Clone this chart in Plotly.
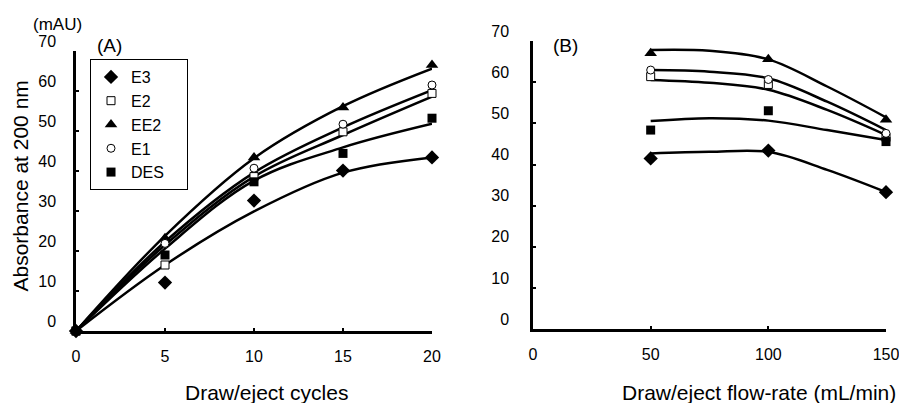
import plotly.graph_objects as go

# ---------------- data ----------------
series = ["E3", "E2", "EE2", "E1", "DES"]

# Panel A: draw/eject cycles
cycles = [0, 5, 10, 15, 20]
a_points = {
    "E3":  [0, 12.1, 32.6, 40.1, 43.4],
    "E2":  [0, 16.5, 38.6, 49.8, 59.4],
    "EE2": [0, 23.2, 43.4, 55.9, 66.5],
    "E1":  [0, 21.9, 40.7, 51.7, 61.5],
    "DES": [0, 19.0, 37.3, 44.4, 53.2],
}
# trend curves
a_curve_x = [0, 5, 10, 15, 20]
a_curves = {
    "E3":  [0, 16.5, 29.9, 39.6, 43.4],
    "E2":  [0, 21.5, 38.6, 49.0, 58.6],
    "EE2": [0, 23.8, 43.2, 56.2, 65.6],
    "E1":  [0, 22.3, 39.6, 50.9, 60.2],
    "DES": [0, 20.6, 37.6, 45.9, 51.8],
}

# Panel B: draw/eject flow-rate (mL/min)
flow = [50, 100, 150]
b_points = {
    "E3":  [41.5, 43.4, 33.3],
    "E2":  [61.4, 59.5, 46.6],
    "EE2": [67.1, 65.6, 50.9],
    "E1":  [63.0, 60.7, 47.6],
    "DES": [48.4, 53.1, 45.6],
}
b_curve_x = [50, 75, 100, 125, 150]
b_curves = {
    "E3":  [42.7, 43.1, 43.1, 38.7, 33.3],
    "E2":  [60.6, 59.9, 58.2, 53.3, 47.2],
    "EE2": [67.9, 67.7, 65.6, 59.0, 51.5],
    "E1":  [63.0, 62.6, 61.0, 55.3, 48.4],
    "DES": [50.6, 51.3, 50.7, 48.4, 46.0],
}

a_xticks = [0, 5, 10, 15, 20]
b_xticks = [0, 50, 100, 150]
yticks = [0, 10, 20, 30, 40, 50, 60, 70]

# ---------------- styles ----------------
FONT = "Liberation Sans, Arial, Helvetica, sans-serif"
marker_style = {
    "E3":  dict(symbol="diamond", size=11, color="black", line=dict(color="black", width=0)),
    "E2":  dict(symbol="square", size=8, color="white", line=dict(color="black", width=1)),
    "EE2": dict(symbol="triangle-up", size=11, color="black", line=dict(color="black", width=0)),
    "E1":  dict(symbol="circle", size=8, color="white", line=dict(color="black", width=1)),
    "DES": dict(symbol="square", size=9, color="black", line=dict(color="black", width=0)),
}
PAD = "\u00a0" * 4  # widens the legend box a little

fig = go.Figure()

# curves first
for s in series:
    fig.add_trace(go.Scatter(x=a_curve_x, y=a_curves[s], mode="lines",
                             line=dict(color="black", width=2.5, shape="spline", smoothing=1.0),
                             showlegend=False, hoverinfo="skip", xaxis="x", yaxis="y",
                             cliponaxis=False))
    fig.add_trace(go.Scatter(x=b_curve_x, y=b_curves[s], mode="lines",
                             line=dict(color="black", width=2.5, shape="spline", smoothing=1.0),
                             showlegend=False, hoverinfo="skip", xaxis="x2", yaxis="y2",
                             cliponaxis=False))

# markers
for s in series:
    fig.add_trace(go.Scatter(x=cycles, y=a_points[s], mode="markers", name=s + PAD,
                             marker=marker_style[s], xaxis="x", yaxis="y",
                             cliponaxis=False))
    fig.add_trace(go.Scatter(x=flow, y=b_points[s], mode="markers", name=s,
                             marker=marker_style[s], xaxis="x2", yaxis="y2",
                             showlegend=False, cliponaxis=False))

axis_common = dict(showgrid=False, zeroline=False, showline=True, linecolor="black",
                   linewidth=2.5, ticks="inside", ticklen=3, tickwidth=2, tickcolor="black",
                   automargin=False, ticklabeloverflow="allow",
                   tickfont=dict(family=FONT, size=16, color="black"))

fig.update_layout(
    template="none",
    width=899, height=403,
    margin=dict(l=76, r=13, t=41, b=72, autoexpand=False),
    paper_bgcolor="white", plot_bgcolor="white",
    font=dict(family=FONT, color="black"),
    xaxis=dict(domain=[0, 0.4395], range=[0, 20], tickvals=a_xticks,
               anchor="y", ticklabelstandoff=9, **axis_common),
    yaxis=dict(domain=[0, 0.9655], range=[0, 70], tickvals=yticks,
               anchor="x", ticklabelshift=-10, ticklabelstandoff=14, **axis_common),
    xaxis2=dict(domain=[0.5642, 1.0], range=[0, 150], tickvals=b_xticks,
                anchor="y2", ticklabelstandoff=9, **axis_common),
    yaxis2=dict(domain=[0.0069, 0.999], range=[0, 70], tickvals=yticks,
                anchor="x2", ticklabelshift=-10, ticklabelstandoff=18, **axis_common),
    legend=dict(x=0.0173, y=0.938, xanchor="left", yanchor="top",
                bordercolor="black", borderwidth=1, bgcolor="white",
                font=dict(family=FONT, size=16, color="black"),
                itemwidth=30, tracegroupgap=0),
    showlegend=True,
)

ann_font = dict(family=FONT, size=21, color="black")
fig.add_annotation(text="Absorbance at 200 nm", textangle=-90, xref="paper", yref="paper",
                   x=(19.5 - 76) / 810, y=(331 - 186) / 290, showarrow=False,
                   xanchor="center", yanchor="middle", font=ann_font)
fig.add_annotation(text="Draw/eject cycles", xref="paper", yref="paper",
                   x=(266 - 76) / 810, y=(331 - 392.5) / 290, showarrow=False,
                   xanchor="center", yanchor="middle", font=ann_font)
fig.add_annotation(text="Draw/eject flow-rate (mL/min)", xref="paper", yref="paper",
                   x=(759 - 76) / 810, y=(331 - 392.5) / 290, showarrow=False,
                   xanchor="center", yanchor="middle", font=ann_font)
fig.add_annotation(text="(mAU)", xref="paper", yref="paper",
                   x=(57 - 76) / 810, y=(331 - 25) / 290, showarrow=False,
                   xanchor="center", yanchor="middle",
                   font=dict(family=FONT, size=17, color="black"))
fig.add_annotation(text="(A)", xref="paper", yref="paper",
                   x=(109.5 - 76) / 810, y=(331 - 45) / 290, showarrow=False,
                   xanchor="center", yanchor="middle",
                   font=dict(family=FONT, size=19, color="black"))
fig.add_annotation(text="(B)", xref="paper", yref="paper",
                   x=(565 - 76) / 810, y=(331 - 45) / 290, showarrow=False,
                   xanchor="center", yanchor="middle",
                   font=dict(family=FONT, size=19, color="black"))

fig.write_html("out.html", config={"displayModeBar": False},
               post_script="document.body.style.margin='0px';document.body.style.overflow='hidden';")
